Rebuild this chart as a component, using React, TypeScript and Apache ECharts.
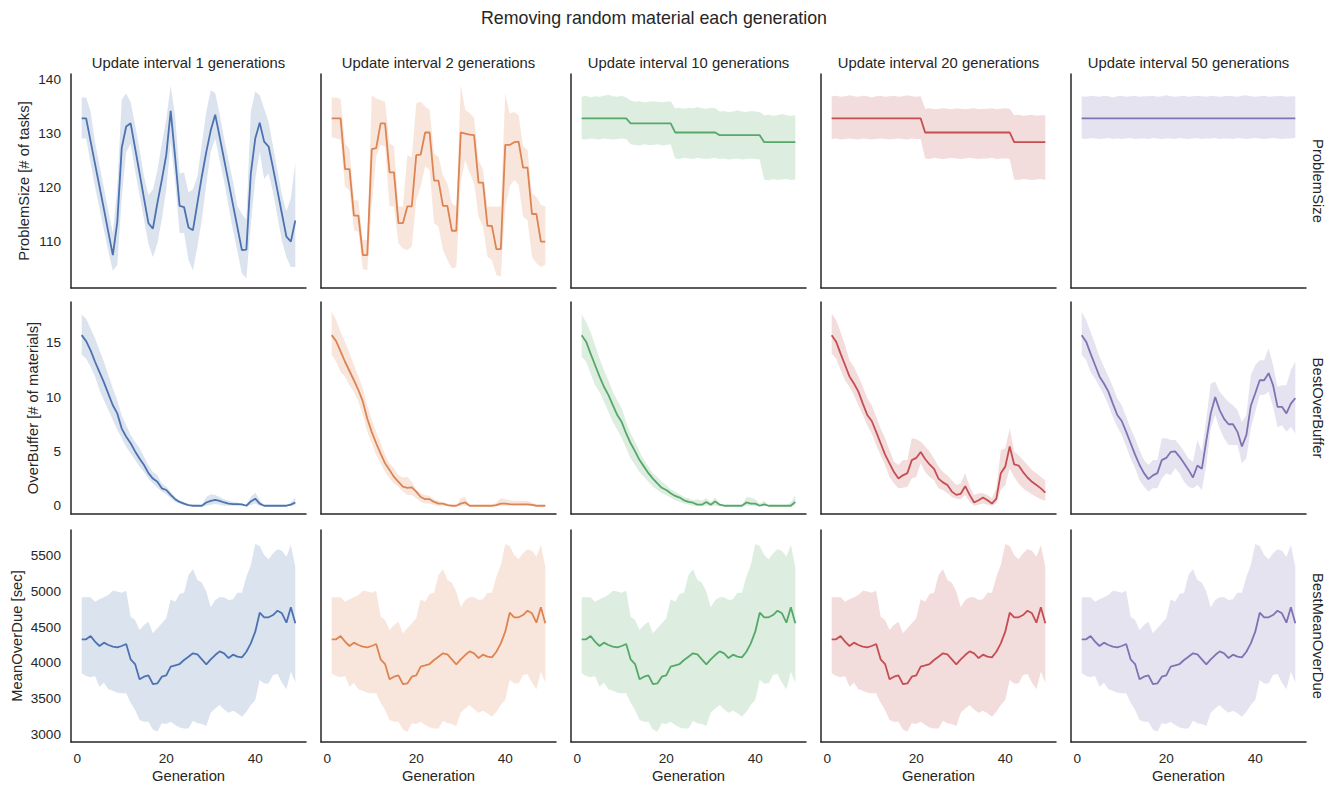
import React, { useEffect, useRef } from "react";
import * as echarts from "echarts";

const FONT = "'Liberation Sans', Arial, sans-serif";
const TXT = "#262626";
const COLORS = ["#4C72B0", "#DD8452", "#55A868", "#C44E52", "#8172B3"];

const generations = [1,2,3,4,5,6,7,8,9,10,11,12,13,14,15,16,17,18,19,20,21,22,23,24,25,26,27,28,29,30,31,32,33,34,35,36,37,38,39,40,41,42,43,44,45,46,47,48,49];

const suptitle = "Removing random material each generation";
const colTitles = ["Update interval 1 generations", "Update interval 2 generations", "Update interval 10 generations", "Update interval 20 generations", "Update interval 50 generations"];
const rowNames = ["ProblemSize", "BestOverBuffer", "BestMeanOverDue"];
const yLabels = ["ProblemSize [# of tasks]", "OverBuffer [# of materials]", "MeanOverDue [sec]"];
const xLabel = "Generation";
const xTicks = [0, 20, 40];
const yTicksProblem = [110, 120, 130, 140];
const yTicksBuffer = [0, 5, 10, 15];
const yTicksDue = [3000, 3500, 4000, 4500, 5000, 5500];

// ---- ProblemSize ----
const ps1Mean = [132.7,132.7,128.5,124.3,120.1,115.9,111.6,107.4,113.5,127.3,131.2,131.8,127.2,122.6,117.9,113.3,112.3,117.0,121.3,125.9,134.1,125.5,116.5,116.3,112.5,112.0,117.0,122.0,126.5,130.5,133.4,129.3,125.1,120.9,116.7,112.5,108.3,108.4,122.5,129.0,131.9,128.4,127.5,123.5,119.3,115.0,110.8,109.9,113.8];
const ps1Hi = [136.6,136.6,134.0,128.3,124.0,119.8,115.6,111.5,120.0,136.2,137.3,135.7,131.5,127.0,122.0,118.5,119.5,123.0,128.0,132.5,138.8,133.0,122.5,122.7,119.0,119.6,122.0,128.0,134.0,137.9,137.4,133.5,129.0,125.0,121.0,116.5,115.0,114.0,134.0,137.7,137.0,134.5,132.0,127.5,123.0,118.5,115.5,118.0,124.4];
const ps1Lo = [129.0,129.0,124.5,120.0,116.0,112.0,108.0,104.5,105.5,118.0,126.5,128.0,123.0,118.5,114.0,109.5,107.0,109.5,114.0,119.5,128.3,121.0,111.5,111.5,106.5,104.6,109.0,114.0,120.5,126.5,129.0,125.0,121.0,116.5,112.0,108.0,104.0,103.1,113.0,121.5,126.5,121.5,122.5,119.0,114.5,110.0,107.0,105.2,105.2];

const ps2Mean = [132.7,132.7,132.7,123.3,123.3,114.7,114.7,107.4,107.4,127.0,127.2,131.8,131.8,122.7,122.7,113.3,113.3,116.4,116.4,125.9,126.0,130.1,130.1,121.2,121.2,116.5,116.5,111.9,111.9,130.1,129.9,129.7,129.6,120.8,120.8,112.8,112.8,108.5,108.5,127.8,127.8,128.3,128.4,123.6,123.6,115.0,115.0,109.9,109.9];
const ps2Hi = [136.6,136.6,136.3,128.0,127.0,117.6,117.5,110.2,110.2,137.0,136.4,136.1,135.8,128.1,127.5,116.4,116.4,125.9,125.5,135.5,135.8,134.9,134.3,126.2,125.6,122.2,120.7,117.0,116.4,138.9,134.3,133.7,132.8,125.0,123.2,116.4,116.4,116.4,116.4,137.3,133.6,133.9,133.3,127.5,126.9,118.8,118.2,116.7,116.4];
const ps2Lo = [129.2,129.0,128.8,120.1,119.4,112.0,111.7,104.8,104.6,116.4,125.6,127.8,127.5,116.4,116.4,109.6,108.6,108.3,109.0,117.6,120.1,123.8,123.2,113.3,112.7,108.3,106.5,104.9,105.2,121.0,125.0,122.6,120.7,114.5,112.7,107.1,106.5,103.7,103.4,116.4,120.1,121.3,120.4,114.5,113.9,107.1,105.9,105.2,105.6];

const ps3Mean = [132.7,132.7,132.7,132.7,132.7,132.7,132.7,132.7,132.7,132.7,132.7,131.8,131.8,131.8,131.8,131.8,131.8,131.8,131.8,131.8,131.8,130.1,130.1,130.1,130.1,130.1,130.1,130.1,130.1,130.1,130.1,129.6,129.6,129.6,129.6,129.6,129.6,129.6,129.6,129.6,129.6,128.3,128.3,128.3,128.3,128.3,128.3,128.3,128.3];
const ps3Hi = [136.7,136.9,136.6,136.8,136.7,136.9,137.1,136.8,136.7,136.9,136.6,136.0,135.8,135.9,135.7,135.8,135.9,135.8,135.7,135.8,135.9,134.6,134.7,134.5,134.7,134.6,134.8,134.6,134.5,134.7,134.6,134.0,134.1,133.9,134.0,134.2,134.0,133.9,134.1,134.0,133.9,133.3,133.4,133.2,133.3,133.5,133.3,133.2,133.3];
const ps3Lo = [128.9,128.8,129.0,128.9,128.8,129.0,128.9,128.8,128.9,129.0,128.9,127.9,127.8,127.7,127.9,127.8,127.8,127.9,127.7,127.8,127.9,125.3,125.2,125.4,125.3,125.2,125.4,125.3,125.2,125.3,125.4,125.2,125.3,125.1,125.2,125.3,125.1,125.2,125.3,125.2,125.1,121.4,121.2,121.5,121.3,121.4,121.5,121.3,121.4];

const ps4Mean = [132.7,132.7,132.7,132.7,132.7,132.7,132.7,132.7,132.7,132.7,132.7,132.7,132.7,132.7,132.7,132.7,132.7,132.7,132.7,132.7,132.7,130.1,130.1,130.1,130.1,130.1,130.1,130.1,130.1,130.1,130.1,130.1,130.1,130.1,130.1,130.1,130.1,130.1,130.1,130.1,130.1,128.3,128.3,128.3,128.3,128.3,128.3,128.3,128.3];
const ps4Hi = [136.8,136.9,136.7,136.8,137.0,136.8,136.7,136.9,136.8,136.6,136.8,136.9,136.7,136.8,136.9,136.7,136.8,137.0,136.8,136.7,136.8,134.5,134.6,134.4,134.5,134.6,134.5,134.4,134.6,134.5,134.4,134.5,134.6,134.4,134.5,134.5,134.6,134.4,134.5,134.6,134.5,133.3,133.4,133.2,133.3,133.4,133.2,133.3,133.3];
const ps4Lo = [128.9,129.0,128.8,128.9,129.0,128.9,128.8,129.0,128.9,128.8,128.9,129.0,128.9,128.8,128.9,129.0,128.9,128.8,129.0,128.9,128.9,125.3,125.2,125.4,125.3,125.2,125.3,125.4,125.3,125.2,125.3,125.4,125.3,125.2,125.3,125.3,125.4,125.2,125.3,125.3,125.2,121.4,121.3,121.5,121.4,121.3,121.4,121.5,121.3];

const ps5Mean = [132.7,132.7,132.7,132.7,132.7,132.7,132.7,132.7,132.7,132.7,132.7,132.7,132.7,132.7,132.7,132.7,132.7,132.7,132.7,132.7,132.7,132.7,132.7,132.7,132.7,132.7,132.7,132.7,132.7,132.7,132.7,132.7,132.7,132.7,132.7,132.7,132.7,132.7,132.7,132.7,132.7,132.7,132.7,132.7,132.7,132.7,132.7,132.7,132.7];
const ps5Hi = [136.8,136.7,136.9,136.8,136.7,136.9,136.8,136.6,136.8,136.9,136.7,136.8,136.9,136.7,136.8,136.8,136.9,136.7,136.8,137.0,136.8,136.7,136.8,136.9,136.7,136.8,136.9,136.8,136.7,136.9,136.8,136.7,136.8,136.9,136.8,136.7,136.9,137.0,136.8,136.7,136.8,136.9,136.7,136.8,136.8,136.9,136.7,136.8,136.8];
const ps5Lo = [129.0,128.9,129.1,129.0,128.9,129.0,129.1,128.9,129.0,128.9,129.0,129.1,128.9,129.0,129.0,128.9,129.1,129.0,128.9,129.0,129.0,128.9,129.1,129.0,128.9,129.0,129.1,128.9,129.0,129.0,129.1,128.9,129.0,129.0,128.9,129.1,129.0,128.9,129.0,129.1,129.0,128.9,129.0,129.1,129.0,128.9,129.0,129.0,129.1];

// ---- BestOverBuffer ----
const ob1Mean = [15.7,15.15,14.3,13.25,12.3,11.35,10.3,9.25,8.5,7.1,6.35,5.75,5.0,4.35,3.75,3.0,2.5,2.2,1.6,1.45,1.0,0.6,0.35,0.2,0.05,0,0,0,0.3,0.45,0.55,0.45,0.3,0.2,0.15,0.15,0.12,0,0.4,0.65,0.2,0,0,0,0,0,0,0.1,0.3];
const ob1Hi = [17.6,17.2,16.3,15.4,14.3,13.25,12.0,10.8,9.7,8.3,7.4,6.5,5.9,5.3,4.5,3.75,3.1,2.8,2.05,1.75,1.3,0.8,0.5,0.3,0.12,0,0,0,0.8,1.05,1.0,0.8,0.6,0.45,0.35,0.3,0.2,0.05,0.8,1.2,0.5,0,0,0,0,0,0,0.3,0.75];
const ob1Lo = [13.9,13.55,12.8,11.9,10.65,9.7,8.8,7.9,7.0,6.2,5.4,4.8,4.2,3.6,3.1,2.5,2.05,1.65,1.3,1.05,0.7,0.35,0.2,0.05,0,0,0,0,0,0.1,0.15,0.1,0,0,0,0,0,0,0.05,0.2,0,0,0,0,0,0,0,0,0.05];

const ob2Mean = [15.7,15.15,14.2,13.25,12.4,11.55,10.65,9.6,8.0,6.8,5.75,4.8,3.9,3.3,2.65,2.2,1.75,1.65,1.7,1.3,0.8,0.6,0.6,0.35,0.2,0.2,0.05,0,0,0.2,0.3,0,0,0,0,0,0,0.05,0.2,0.2,0.15,0.12,0.12,0.12,0.12,0.08,0,0,0];
const ob2Hi = [17.85,17.1,16.0,15.1,14.0,12.95,11.9,10.8,9.25,7.9,6.8,5.75,4.7,3.9,3.45,2.8,2.6,2.65,2.2,1.45,1.15,1.0,0.9,0.6,0.45,0.3,0.2,0,0,0.7,0.8,0,0,0,0,0,0,0.3,0.7,0.6,0.5,0.45,0.45,0.45,0.45,0.3,0.1,0,0];
const ob2Lo = [13.9,13.25,12.3,11.9,11.1,10.5,9.6,8.35,6.8,5.75,4.65,3.9,3.1,2.5,2.05,1.75,1.3,1.0,1.0,0.7,0.35,0.2,0.2,0.05,0,0,0,0,0,0,0,0,0,0,0,0,0,0,0,0,0,0,0,0,0,0,0,0,0];

const ob3Mean = [15.7,15.1,14.0,12.95,11.9,10.95,10.2,9.25,8.35,7.7,6.65,5.75,5.0,4.2,3.6,3.0,2.5,2.05,1.65,1.45,1.15,0.9,0.75,0.5,0.35,0.28,0.1,0.1,0.35,0.1,0.4,0.1,0,0,0,0,0,0.3,0.2,0.2,0,0.12,0,0,0,0,0,0,0.35];
const ob3Hi = [17.6,16.9,16.0,14.8,13.55,12.5,11.55,10.5,9.7,8.95,7.7,6.65,5.9,5.0,4.2,3.6,3.0,2.65,2.2,1.9,1.55,1.3,1.05,0.8,0.7,0.5,0.6,0.45,0.7,0.35,0.75,0.2,0,0,0,0,0,0.8,0.75,0.6,0.2,0.45,0.05,0,0,0,0,0.3,1.0];
const ob3Lo = [13.7,13.25,12.2,11.1,10.5,9.6,8.65,7.7,7.0,6.2,5.3,4.35,3.75,3.1,2.65,2.2,1.75,1.45,1.15,1.0,0.75,0.5,0.35,0.2,0.12,0,0,0,0,0,0,0,0,0,0,0,0,0,0,0,0,0,0,0,0,0,0,0,0.05];

const ob4Mean = [15.7,15.1,14.0,12.95,11.9,11.25,10.5,9.4,8.35,7.8,6.8,5.75,4.7,3.9,3.1,2.5,2.8,3.0,4.2,4.4,4.95,4.3,3.8,3.4,2.5,2.15,1.9,1.3,1.0,1.1,1.8,1.0,0.3,0.5,0.75,0.5,0.2,0.65,3.0,3.6,5.45,3.8,3.7,3.1,2.6,2.2,1.9,1.6,1.2];
const ob4Hi = [17.7,17.1,16.0,14.8,13.4,12.8,11.9,10.95,9.9,9.25,8.2,7.1,6.2,5.1,4.05,3.75,4.2,4.2,6.2,6.15,5.9,5.45,5.0,4.35,3.6,3.1,2.8,2.35,1.9,2.05,3.0,1.75,1.0,1.15,1.15,1.0,0.7,1.6,5.1,5.3,7.1,5.0,4.65,4.2,3.75,3.3,3.0,2.65,2.35];
const ob4Lo = [14.0,13.55,12.5,11.55,10.95,10.2,9.25,8.35,7.4,6.65,5.6,4.65,3.75,2.65,2.05,1.6,1.65,1.75,2.5,2.65,3.9,3.1,2.65,2.35,1.6,1.45,1.15,0.8,0.65,0.6,1.0,0.35,0,0.1,0.2,0.1,0,0.2,1.45,1.9,3.45,2.65,2.05,1.6,1.3,1.05,0.8,0.6,0.45];

const ob5Mean = [15.7,15.1,14.0,12.95,11.9,11.25,10.5,9.4,8.35,7.8,6.8,5.75,4.7,3.75,3.0,2.45,2.8,3.0,4.2,4.4,4.95,5.0,4.5,3.9,3.3,2.6,3.7,3.4,6.0,8.5,10.0,8.8,8.0,7.5,7.5,6.8,5.45,6.5,9.2,10.35,11.55,11.55,12.2,11.1,9.1,9.1,8.5,9.4,9.9];
const ob5Hi = [17.85,17.1,16.0,14.9,13.7,12.8,11.9,10.95,9.9,9.25,8.2,7.1,6.2,5.1,4.2,3.75,4.2,4.2,6.2,6.2,6.05,6.05,5.6,5.0,4.35,4.05,6.05,5.0,8.0,11.25,11.4,10.5,10.0,9.55,9.25,8.8,7.7,8.35,12.0,12.95,13.4,13.4,14.5,12.95,10.95,11.1,11.1,12.5,13.25];
const ob5Lo = [13.9,13.4,12.3,11.7,10.95,10.2,9.25,8.2,7.25,6.5,5.45,4.35,3.45,2.35,1.75,1.3,1.6,1.6,2.5,3.0,2.8,3.45,3.0,2.2,1.75,1.6,1.9,1.45,3.75,7.1,8.35,7.1,6.2,5.6,5.6,5.6,3.9,4.35,7.1,8.65,10.2,10.2,10.5,9.1,7.25,7.4,6.8,7.25,6.65];

// ---- BestMeanOverDue (same for every interval) ----
const mdMean = [4330,4330,4376,4297,4236,4283,4250,4227,4217,4236,4264,4049,3983,3768,3805,3824,3702,3711,3805,3824,3946,3964,3983,4039,4086,4133,4119,4049,3978,4049,4109,4161,4133,4067,4114,4086,4077,4156,4273,4437,4704,4639,4639,4671,4732,4695,4564,4779,4554];
const mdHi = [4919,4919,4919,4859,4891,4919,4952,5013,5000,4985,5013,4648,4601,4461,4531,4578,4414,4484,4554,4624,4891,4859,4966,4985,5233,5313,5163,5125,5000,4779,4882,4919,4919,4882,4891,4985,4985,5210,5374,5669,5640,5514,5453,5537,5594,5575,5490,5654,5350];
const mdLo = [3852,3814,3796,3814,3665,3721,3627,3608,3580,3571,3571,3440,3337,3196,3173,3173,3065,3033,3150,3140,3173,3126,3093,3079,3079,3187,3150,3140,3112,3300,3360,3407,3346,3300,3328,3290,3243,3313,3407,3477,3758,3711,3711,3829,3843,3721,3627,3876,3721];

const COL_LEFT = [71, 321, 571, 821, 1071];
const PANEL_W = 235;
const ROW_TOP = [74, 302, 530];
const ROW_H = [214, 212, 212];
const Y_LABEL_X = [24, 32.5, 16.7];

function hexToRgba(hex: string, a: number) {
  const n = parseInt(hex.slice(1), 16);
  return `rgba(${(n >> 16) & 255},${(n >> 8) & 255},${n & 255},${a})`;
}

export default function App() {
  const ref = useRef<HTMLDivElement>(null);

  useEffect(() => {
    if (!ref.current) return;
    const chart = echarts.init(ref.current, undefined, { renderer: "svg" });

    const rows = [
      { min: 101.3, max: 140.93, ticks: yTicksProblem, panels: [[ps1Mean, ps1Lo, ps1Hi], [ps2Mean, ps2Lo, ps2Hi], [ps3Mean, ps3Lo, ps3Hi], [ps4Mean, ps4Lo, ps4Hi], [ps5Mean, ps5Lo, ps5Hi]] },
      { min: -0.76, max: 18.75, ticks: yTicksBuffer, panels: [[ob1Mean, ob1Lo, ob1Hi], [ob2Mean, ob2Lo, ob2Hi], [ob3Mean, ob3Lo, ob3Hi], [ob4Mean, ob4Lo, ob4Hi], [ob5Mean, ob5Lo, ob5Hi]] },
      { min: 2888, max: 5865, ticks: yTicksDue, panels: [[mdMean, mdLo, mdHi], [mdMean, mdLo, mdHi], [mdMean, mdLo, mdHi], [mdMean, mdLo, mdHi], [mdMean, mdLo, mdHi]] },
    ];

    const grid: any[] = [];
    const xAxis: any[] = [];
    const yAxis: any[] = [];
    const series: any[] = [];
    const graphic: any[] = [];

    const axisLine = { show: true, onZero: false, lineStyle: { color: TXT, width: 1.5 } };

    rows.forEach((row, r) => {
      row.panels.forEach((panel, c) => {
        const i = r * 5 + c;
        const [mean, lo, hi] = panel;
        const color = COLORS[c];
        grid.push({ left: COL_LEFT[c], top: ROW_TOP[r], width: PANEL_W, height: ROW_H[r], containLabel: false, outerBoundsMode: "none" });
        xAxis.push({
          type: "value", gridIndex: i, min: -1.4, max: 51.4,
          axisLine, axisTick: { show: false }, splitLine: { show: false },
          axisLabel: { show: r === 2, customValues: xTicks, color: TXT, fontSize: 13.6, fontFamily: FONT, margin: 9, formatter: (v: number) => String(v) },
        });
        yAxis.push({
          type: "value", gridIndex: i, min: row.min, max: row.max,
          axisLine, axisTick: { show: false }, splitLine: { show: false },
          axisLabel: { show: c === 0, customValues: row.ticks, color: TXT, fontSize: 13.6, fontFamily: FONT, margin: 10, formatter: (v: number) => String(v) },
        });
        const bandData = generations.map((g, k) => [g, lo[k], hi[k]]);
        const fill = hexToRgba(color, 0.2);
        series.push({
          type: "custom", xAxisIndex: i, yAxisIndex: i, silent: true, z: 1,
          data: bandData,
          encode: { x: 0, y: [1, 2] },
          renderItem: (params: any, api: any) => {
            if (params.dataIndex !== 0) return null;
            const upper = bandData.map((d) => api.coord([d[0], d[2]]));
            const lower = bandData.map((d) => api.coord([d[0], d[1]])).reverse();
            return { type: "polygon", shape: { points: upper.concat(lower) }, style: { fill, stroke: "none" } };
          },
        });
        series.push({
          type: "line", xAxisIndex: i, yAxisIndex: i, z: 3,
          data: generations.map((g, k) => [g, mean[k]]), symbol: "none",
          lineStyle: { color, width: 1.8 },
        });
      });
    });

    const textStyle = (text: string, size: number) => ({ text, fontSize: size, fontFamily: FONT, fill: TXT, align: "center", verticalAlign: "middle" });

    graphic.push({ type: "text", x: 654, y: 18, style: textStyle(suptitle, 17.8) });
    colTitles.forEach((t, c) => {
      graphic.push({ type: "text", x: COL_LEFT[c] + PANEL_W / 2, y: 63, style: textStyle(t, 14.8) });
      graphic.push({ type: "text", x: COL_LEFT[c] + PANEL_W / 2, y: 776, style: textStyle(xLabel, 14.8) });
    });
    rowNames.forEach((t, r) => {
      graphic.push({ type: "text", x: 1318, y: ROW_TOP[r] + ROW_H[r] / 2, rotation: -Math.PI / 2, style: textStyle(t, 14.8) });
      graphic.push({ type: "text", x: Y_LABEL_X[r], y: ROW_TOP[r] + ROW_H[r] / 2, rotation: Math.PI / 2, style: textStyle(yLabels[r], 14.8) });
    });

    chart.setOption({
      animation: false,
      backgroundColor: "#ffffff",
      grid, xAxis, yAxis, series, graphic,
    });

    return () => chart.dispose();
  }, []);

  return <div ref={ref} style={{ position: "absolute", left: 0, top: 0, width: 1335, height: 785 }} />;
}
